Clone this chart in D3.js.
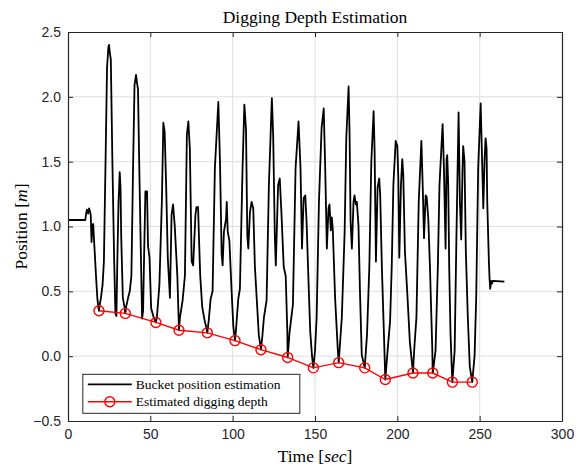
<!DOCTYPE html>
<meta charset="utf-8">
<script src="https://d3js.org/d3.v7.min.js"></script>
<head>
  <style>
  body { margin: 0; background: #fff; }
  .tick text { font-family: "Liberation Sans", Arial, sans-serif; font-size: 14px; fill: #262626; }
  .tex { font-family: "Liberation Serif", "DejaVu Serif", serif; fill: #000; }
  </style>
</head>
<html><body>
<div id="viz"></div>
<script>

// bucket position trace (time in sec, position in m)
const bucketTime = [0,10.5,11,11.5,12.2,12.8,13.3,13.8,14.3,14.8,15.3,15.7,16.2,17,17.8,18.4,18.8,19.3,20,21,21.8,22.8,23.7,24.5,24.9,25.5,26,27,28,28.8,29.4,30,30.7,31.4,31.9,32.3,33.3,34.3,34.8,35.3,36.5,37.5,38.5,39.5,40.4,41.3,42,42.5,43.3,44.3,45,45.6,46.2,47,48,48.6,49.5,50.5,52,53,53.4,54,55.5,57,57.9,58.7,59.6,60.6,61.9,62.9,63.8,64.8,66.4,67.4,68,69.6,71,72.2,73.1,74,75.1,76,77.4,78,79,79.5,80.3,81.5,82.9,84,84.6,85.5,86.6,87.8,89.2,91.3,92.3,93.3,93.9,94.7,96,96.4,97,98,99.4,100.4,101.4,102,103.4,104.4,106,107.1,108.1,108.9,109.5,110.5,111.5,112.5,113.5,114.9,115.9,117.2,118,119,120.6,122,123.8,124.6,125.6,126.2,127.6,128.6,129.6,131,132.2,133.2,133.4,134.6,136.6,138.2,140,141.2,142.1,143.1,144.1,144.9,146.1,147.1,148.2,149,150,151,152.4,154,155.3,156.2,157.2,158.2,158.8,159.6,160.2,160.8,162.2,163.8,164.4,166.3,168,169,170.4,171,171.6,172.4,173.4,174,174.8,175.4,176.4,177.4,178.4,180.2,181.6,183,184.2,185.6,186.2,187,188,189,189.6,190.6,191.6,192.7,194.2,195.6,196.6,197.6,199,200,200.6,201.2,202.2,203,203.6,204.6,206.2,207.6,209.5,210.2,211.6,213,214.6,215.4,216.2,217.2,217.8,218.8,219.8,221.2,221.5,223.2,224.6,225.6,227.5,228.3,229.3,229.9,230.3,230.9,231.5,232.3,233.4,234.8,235.9,237.2,238,238.8,239.6,240,240.8,241.6,242.8,244,245.5,246.9,247.9,249.1,250.6,251.6,252.2,253,253.6,254.2,254.6,255.6,256,256.4,257,257.5,258,265];
const bucketPos = [1.05,1.05,1.1,1.13,1.10,1.14,1.12,1.09,0.88,1.01,1.02,0.92,0.81,0.62,0.45,0.38,0.35,0.40,0.45,0.55,0.73,1.5,2.22,2.38,2.40,2.33,2.29,1.47,0.76,0.33,0.31,0.76,1.19,1.42,1.30,0.93,0.45,0.38,0.33,0.38,0.45,0.50,0.62,1.45,2.09,2.17,2.10,2.06,1.45,0.76,0.29,0.35,0.76,1.27,1.27,0.85,0.76,0.37,0.30,0.27,0.26,0.30,0.55,1.19,1.80,1.73,1.32,0.76,0.45,1.09,1.17,1.01,0.62,0.20,0.30,0.43,0.62,1.71,1.81,1.60,0.73,0.70,1.09,1.15,1.15,0.93,0.62,0.38,0.28,0.22,0.18,0.28,0.44,0.50,1.45,1.96,1.50,0.79,0.70,0.96,1.06,1.19,0.96,0.89,0.49,0.23,0.12,0.20,0.44,0.52,1.45,1.94,1.75,0.93,0.83,1.11,1.19,1.14,0.69,0.38,0.16,0.05,0.15,0.30,0.43,1.32,1.99,1.70,0.93,0.70,1.32,1.37,1.11,0.69,0.62,0.19,-0.01,0.19,0.40,1.45,1.81,1.45,0.83,1.22,1.24,1.03,0.56,0.19,0.0,-0.09,0.04,0.30,1.19,1.76,1.91,1.45,0.83,1.14,1.17,0.97,1.07,0.98,0.45,0.06,-0.05,0.30,0.96,1.68,2.08,1.71,1.04,0.83,1.19,1.24,1.17,1.19,1.01,0.45,0.01,-0.09,0.17,0.69,1.50,1.89,1.58,0.73,1.30,1.37,1.24,0.69,0.28,-0.18,0.06,0.27,0.69,1.32,1.66,1.62,1.37,0.76,1.32,1.52,1.40,0.81,0.45,0.11,-0.13,0.04,0.30,1.19,1.66,1.32,0.91,1.24,1.23,1.06,0.69,0.07,-0.13,0.04,0.69,1.32,1.79,1.45,0.83,1.52,1.55,1.32,0.69,0.17,-0.20,0.04,0.93,1.88,1.19,0.90,1.45,1.62,1.50,0.81,0.30,-0.08,-0.20,0.00,0.45,1.45,1.95,1.45,1.14,1.52,1.68,1.60,1.19,0.73,0.60,0.52,0.58,0.56,0.58,0.575];

// estimated digging depth per cycle
const depthTime = [18.8,34.8,53.4,67.4,84.6,101.4,117.2,133.4,149,164.4,180.2,192.7,209.5,221.5,233.4,245.5];
const depthPos = [0.35,0.33,0.26,0.20,0.18,0.12,0.05,-0.01,-0.09,-0.05,-0.09,-0.18,-0.13,-0.13,-0.20,-0.20];

const xTicks = [0,50,100,150,200,250,300];
const yTicks = [-0.5,0,0.5,1,1.5,2,2.5];

const W = 582, H = 468;
const margin = {top: 32, right: 20, bottom: 47, left: 68};
const width = W - margin.left - margin.right,
      height = H - margin.top - margin.bottom;

const root = d3.select("#viz").append("svg")
  .attr("width", W).attr("height", H);
const svg = root.append("g")
  .attr("transform", `translate(${margin.left}, ${margin.top})`);

const x = d3.scaleLinear().domain([0, 300]).range([0, width]);
const y = d3.scaleLinear().domain([-0.5, 2.5]).range([height, 0]);

// grid
svg.append("g").selectAll("line").data(xTicks.slice(1, -1)).join("line")
  .attr("x1", d => x(d)).attr("x2", d => x(d)).attr("y1", 0).attr("y2", height)
  .attr("stroke", "#dfdfdf").attr("stroke-width", 1);
svg.append("g").selectAll("line").data(yTicks.slice(1, -1)).join("line")
  .attr("y1", d => y(d)).attr("y2", d => y(d)).attr("x1", 0).attr("x2", width)
  .attr("stroke", "#dfdfdf").attr("stroke-width", 1);

// data
const clip = svg.append("defs").append("clipPath").attr("id", "clip")
  .append("rect").attr("width", width).attr("height", height);
const plot = svg.append("g").attr("clip-path", "url(#clip)");

const bucket = bucketTime.map((t, i) => [t, bucketPos[i]]);
const depth = depthTime.map((t, i) => [t, depthPos[i]]);

plot.append("path")
  .datum(bucket)
  .attr("fill", "none")
  .attr("stroke", "#000")
  .attr("stroke-width", 1.8)
  .attr("stroke-linejoin", "round")
  .attr("d", d3.line().x(d => x(d[0])).y(d => y(d[1])));

plot.append("path")
  .datum(depth)
  .attr("fill", "none")
  .attr("stroke", "#ff0000")
  .attr("stroke-width", 1.4)
  .attr("d", d3.line().x(d => x(d[0])).y(d => y(d[1])));

plot.selectAll("circle.dp").data(depth).join("circle")
  .attr("class", "dp")
  .attr("cx", d => x(d[0])).attr("cy", d => y(d[1])).attr("r", 5)
  .attr("fill", "none").attr("stroke", "#ff0000").attr("stroke-width", 1.4);

// axes, ticks pointing inward on all four sides (box on)
const axisColor = "#262626";
function styleAxis(g) {
  g.select(".domain").attr("stroke", axisColor).attr("stroke-width", 1.2);
  g.selectAll(".tick line").attr("stroke", axisColor).attr("stroke-width", 1);
}
svg.append("g").attr("transform", `translate(0, ${height})`)
  .call(d3.axisBottom(x).tickValues(xTicks).tickSizeInner(-5).tickSizeOuter(0).tickPadding(8))
  .call(styleAxis)
  .selectAll("text").attr("dy", "0.71em");
svg.append("g")
  .call(d3.axisTop(x).tickValues(xTicks).tickSizeInner(-5).tickSizeOuter(0).tickFormat(""))
  .call(styleAxis);
svg.append("g")
  .call(d3.axisLeft(y).tickValues(yTicks).tickSizeInner(-5).tickSizeOuter(0).tickPadding(7))
  .call(styleAxis);
svg.append("g").attr("transform", `translate(${width}, 0)`)
  .call(d3.axisRight(y).tickValues(yTicks).tickSizeInner(-5).tickSizeOuter(0).tickFormat(""))
  .call(styleAxis);

// title and labels
root.append("text").attr("class", "tex")
  .attr("x", margin.left + width / 2).attr("y", 23)
  .attr("text-anchor", "middle").style("font-size", "17.5px")
  .text("Digging Depth Estimation");

const xl = root.append("text").attr("class", "tex")
  .attr("x", margin.left + width / 2).attr("y", 462)
  .attr("text-anchor", "middle").style("font-size", "17.5px");
xl.append("tspan").text("Time [");
xl.append("tspan").style("font-style", "italic").text("sec");
xl.append("tspan").text("]");

const yl = root.append("text").attr("class", "tex")
  .attr("transform", `translate(27, ${margin.top + height / 2}) rotate(-90)`)
  .attr("text-anchor", "middle").style("font-size", "17.5px");
yl.append("tspan").text("Position [");
yl.append("tspan").style("font-style", "italic").text("m");
yl.append("tspan").text("]");

// legend
const leg = svg.append("g").attr("transform", `translate(${x(9)}, ${y(-0.14)})`);
leg.append("rect").attr("width", 217).attr("height", 39)
  .attr("fill", "#fff").attr("stroke", axisColor).attr("stroke-width", 1);
const items = [
  {label: "Bucket position estimation", color: "#000", marker: false},
  {label: "Estimated digging depth", color: "#ff0000", marker: true}
];
items.forEach(function(it, i) {
  const cy = 10 + i * 17.5;
  leg.append("line").attr("x1", 5).attr("x2", 49).attr("y1", cy).attr("y2", cy)
    .attr("stroke", it.color).attr("stroke-width", it.marker ? 1.4 : 1.8);
  if (it.marker) {
    leg.append("circle").attr("cx", 27).attr("cy", cy).attr("r", 5)
      .attr("fill", "none").attr("stroke", it.color).attr("stroke-width", 1.4);
  }
  leg.append("text").attr("class", "tex").attr("x", 53).attr("y", cy + 4.5)
    .style("font-size", "13.5px").text(it.label);
});

</script>
</body></html>
